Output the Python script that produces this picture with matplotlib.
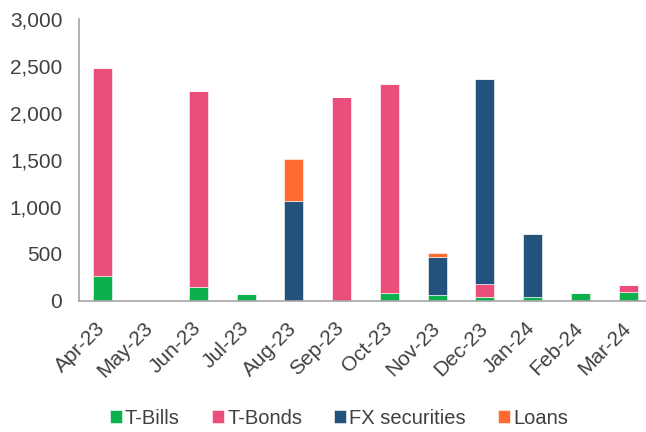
import matplotlib.pyplot as plt
import numpy as np
from matplotlib.ticker import FuncFormatter

plt.rcParams['font.family'] = ['Liberation Sans', 'DejaVu Sans']

months = ["Apr-23", "May-23", "Jun-23", "Jul-23", "Aug-23", "Sep-23",
          "Oct-23", "Nov-23", "Dec-23", "Jan-24", "Feb-24", "Mar-24"]
t_bills = [260, 0, 140, 65, 0, 0, 75, 55, 35, 40, 78, 93]
t_bonds = [2213, 0, 2098, 0, 0, 2174, 2233, 0, 142, 0, 0, 67]
fx_securities = [0, 0, 0, 0, 1060, 0, 0, 410, 2188, 664, 0, 0]
loans = [0, 0, 0, 0, 452, 0, 0, 40, 0, 0, 0, 0]

series = [("T-Bills", t_bills, "#0db14b"),
          ("T-Bonds", t_bonds, "#ec4e7c"),
          ("FX securities", fx_securities, "#23527c"),
          ("Loans", loans, "#ff6a33")]

fig = plt.figure(figsize=(6.46, 4.32), dpi=100)
ax = fig.add_axes([79 / 646, (432 - 300.5) / 432, 573 / 646, 281.5 / 432])

x = np.arange(len(months))
bottom = np.zeros(len(months))
for name, vals, color in series:
    vals = np.array(vals, dtype=float)
    ax.bar(x, vals, width=0.4, bottom=bottom, color=color, label=name,
           edgecolor="white", linewidth=0.4)
    bottom += vals

ax.set_xlim(-0.5, len(months) - 0.5)
ax.set_ylim(0, 3000)
ax.set_yticks(np.arange(0, 3001, 500))
ax.yaxis.set_major_formatter(FuncFormatter(lambda v, p: f"{int(v):,}"))

# rotated labels end just about at the bar centre, like Excel
ax.set_xticks(x - 0.15)
ax.set_xticklabels(months, rotation=45, ha="right", va="top", rotation_mode="anchor")

ax.tick_params(axis="both", length=0, labelsize=15, colors="#404040")
ax.tick_params(axis="y", pad=12)
ax.tick_params(axis="x", pad=13)
for side in ["top", "right"]:
    ax.spines[side].set_visible(False)
for side in ["left", "bottom"]:
    ax.spines[side].set_color("#a6a6a6")
    ax.spines[side].set_linewidth(1.2)

fig.legend(loc="center", bbox_to_anchor=(339 / 646, 1 - 418 / 432), ncol=4,
           frameon=False, fontsize=14.5, handlelength=0.6, handleheight=0.6,
           handletextpad=0.15, columnspacing=1.6, labelcolor="#404040")

fig.savefig("out.png", dpi=100)
